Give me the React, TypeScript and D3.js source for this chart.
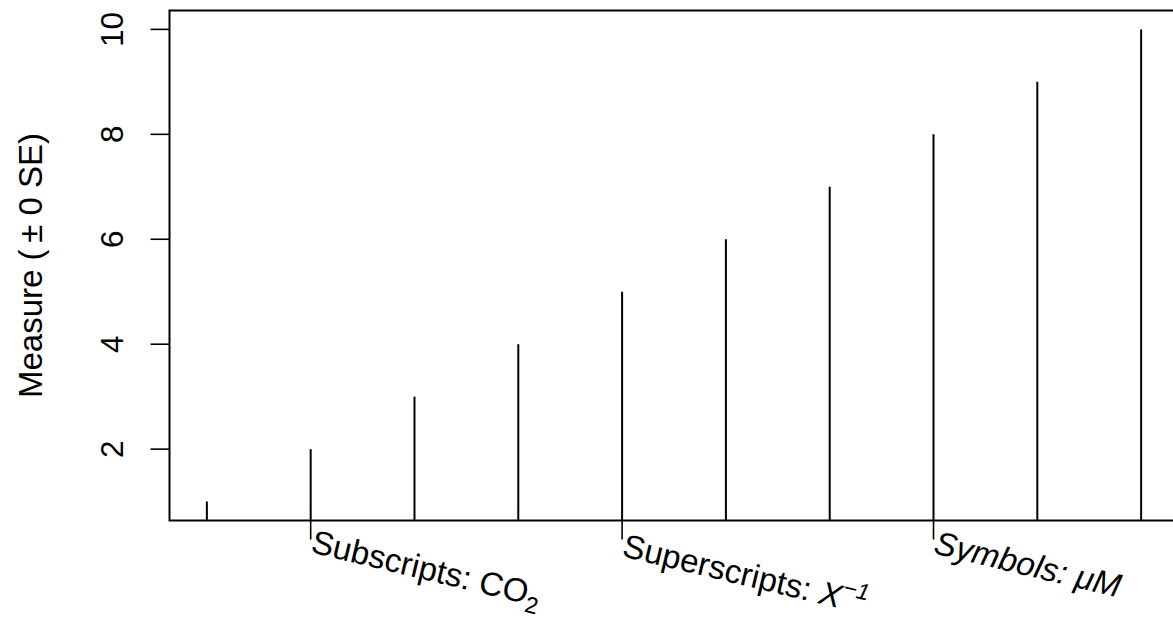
import React from "react";
import * as d3 from "d3";

const xValues = [1, 2, 3, 4, 5, 6, 7, 8, 9, 10];
const yValues = [1, 2, 3, 4, 5, 6, 7, 8, 9, 10];
const yTicks = [2, 4, 6, 8, 10];
const xLabelAt = [2, 5, 8];

const W = 1173;
const H = 620;
const FONT = "'Liberation Sans', Arial, Helvetica, sans-serif";
const TICK_FS = 31.5;
const TITLE_FS = 33;
const XLAB_FS = 33;

export default function App() {
  // data range padded by 4% on each side
  const pad = (10 - 1) * 0.04;
  const x = d3.scaleLinear().domain([1 - pad, 10 + pad]).range([169.5, 1178.5]);
  const y = d3.scaleLinear().domain([1 - pad, 10 + pad]).range([520.5, 10.5]);

  const [x0, x1] = x.range();
  const [yb, yt] = y.range();

  const labelAngle = 13.5;

  const renderLabel = (i: number) => {
    if (i === 0) {
      return (
        <text x={0} y={0} fontSize={XLAB_FS}>
          <tspan>Subscripts: CO</tspan>
          <tspan fontSize={XLAB_FS * 0.7} dy={8}>2</tspan>
        </text>
      );
    }
    if (i === 1) {
      return (
        <text x={0} y={0} fontSize={XLAB_FS}>
          <tspan>Superscripts: </tspan>
          <tspan fontStyle="italic">X</tspan>
          <tspan fontStyle="italic" fontSize={XLAB_FS * 0.7} dy={-14}>{"\u22121"}</tspan>
        </text>
      );
    }
    return (
      <text x={0} y={0} fontSize={XLAB_FS} fontStyle="italic">
        Symbols: {"\u03bc"}M
      </text>
    );
  };

  const labelBaseline = [552, 556, 553];

  return (
    <svg
      width={W}
      height={H}
      style={{ position: "absolute", left: 0, top: 0, display: "block", background: "#fff" }}
      fontFamily={FONT}
    >
      <defs>
        <clipPath id="plotArea">
          <rect x={x0} y={yt} width={x1 - x0} height={yb - yt} />
        </clipPath>
      </defs>

      {/* vertical spikes from zero, clipped to the plot region */}
      <g clipPath="url(#plotArea)">
        {xValues.map((xv, i) => (
          <line
            key={i}
            x1={x(xv)}
            x2={x(xv)}
            y1={y(0)}
            y2={y(yValues[i])}
            stroke="#000"
            strokeWidth={2}
          />
        ))}
      </g>

      {/* frame */}
      <rect x={x0} y={yt} width={x1 - x0} height={yb - yt} fill="none" stroke="#000" strokeWidth={2} />

      {/* y axis ticks and labels */}
      {yTicks.map((t) => (
        <g key={t}>
          <line x1={x0 - 19} x2={x0} y1={y(t)} y2={y(t)} stroke="#000" strokeWidth={1.6} />
          <text
            transform={`translate(${123},${y(t)}) rotate(-90)`}
            textAnchor="middle"
            fontSize={TICK_FS}
          >
            {t}
          </text>
        </g>
      ))}

      {/* x axis ticks with rotated labels */}
      {xLabelAt.map((v, i) => (
        <g key={v}>
          <line x1={x(v)} x2={x(v)} y1={yb} y2={yb + 19} stroke="#000" strokeWidth={1.6} />
          <g transform={`translate(${x(v) - 1},${labelBaseline[i]}) rotate(${labelAngle})`}>
            {renderLabel(i)}
          </g>
        </g>
      ))}

      {/* y axis title */}
      <text
        transform={`translate(${42},${(yt + yb) / 2}) rotate(-90)`}
        textAnchor="middle"
        fontSize={TITLE_FS}
      >
        Measure ({"\u2009"}± 0 SE)
      </text>
    </svg>
  );
}
